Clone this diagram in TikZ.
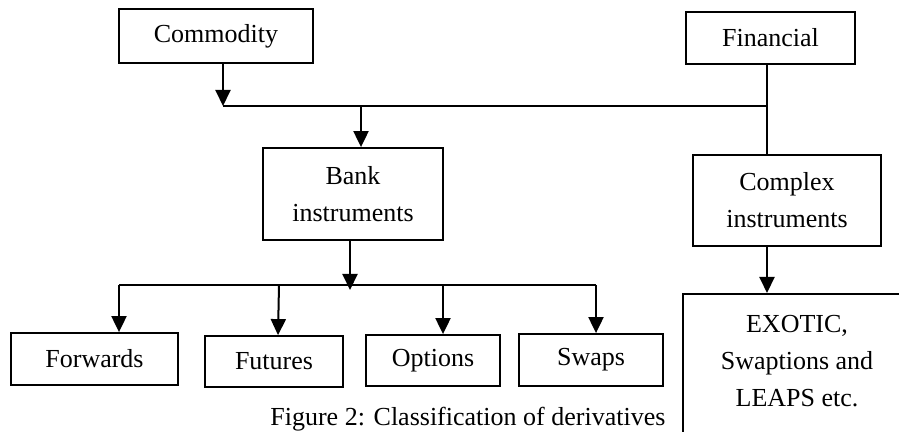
\documentclass[tikz,border=0pt]{standalone}
\usepackage{fontspec}
\setmainfont{Liberation Serif}
\usetikzlibrary{arrows.meta}
\begin{document}
\begin{tikzpicture}[x=0.5pt,y=-0.5pt,
  box/.style={draw,line width=0.9pt,fill=white,inner sep=0pt,align=center,font=\fontsize{13}{18.5}\selectfont},
  txt/.style={inner sep=0pt,align=center,font=\fontsize{13}{18.5}\selectfont},
  ln/.style={line width=1pt},
  arr/.style={line width=1pt,-{Triangle[length=8pt,width=7.5pt]}}]
\useasboundingbox (0,0) rectangle (899,432);
\clip (0,0) rectangle (899,432);
% caption (partly hidden by the box on the right)
\node[txt,anchor=base west] (cap) at (270,425) {Figure 2: Classification of derivatives};
% boxes
\node[box,minimum width=97pt,minimum height=27pt] (commodity) at (216,36) {Commodity};
\node[box,minimum width=84.5pt,minimum height=26pt] (financial) at (770.5,38) {Financial};
\node[box,minimum width=90pt,minimum height=46pt] (bank) at (353,194) {Bank\\instruments};
\node[box,minimum width=94pt,minimum height=45.5pt] (complex) at (787,200.5) {Complex\\instruments};
\node[box,minimum width=83.5pt,minimum height=26pt] (forwards) at (94.5,359) {Forwards};
\node[box,minimum width=69pt,minimum height=25.5pt] (futures) at (274,361.5) {Futures};
\node[box,minimum width=67pt,minimum height=25.5pt] (options) at (433,360.5) {Options};
\node[box,minimum width=72pt,minimum height=26pt] (swaps) at (591,360) {Swaps};
\node[box,anchor=north west,minimum width=120pt,minimum height=90pt] (exobox) at (682,293) {};
\node[txt] (exo) at (797,361) {EXOTIC,\\Swaptions and\\LEAPS etc.};
% junction coordinates
\coordinate (c1) at (223,106);
\coordinate (j1) at (767,106);
\coordinate (c2) at (361,106);
\coordinate (c3) at (350,285);
\coordinate (l1) at (119,285);
\coordinate (r1) at (596,285);
\coordinate (f2) at (279,285);
\coordinate (o1) at (443,285);
\coordinate (x1) at (767,200);
% connectors
\draw[arr] (commodity.south -| c1) -- (c1);
\draw[ln] (c1) -- (j1);
\draw[ln] (financial.south -| j1) -- (complex.north -| j1);
\draw[arr] (c2) -- (bank.north -| c2);
\draw[arr] (bank.south -| c3) -- ([yshift=-2.5pt]c3);
\draw[ln] (l1) -- (r1);
\draw[arr] (l1) -- (forwards.north -| l1);
\draw[arr] (f2) -- ([xshift=-0.5pt]futures.north -| f2);
\draw[arr] (o1) -- (options.north -| o1);
\draw[arr] (r1) -- (swaps.north -| r1);
\draw[arr] (complex.south -| x1) -- (exobox.north -| x1);
\end{tikzpicture}
\end{document}
